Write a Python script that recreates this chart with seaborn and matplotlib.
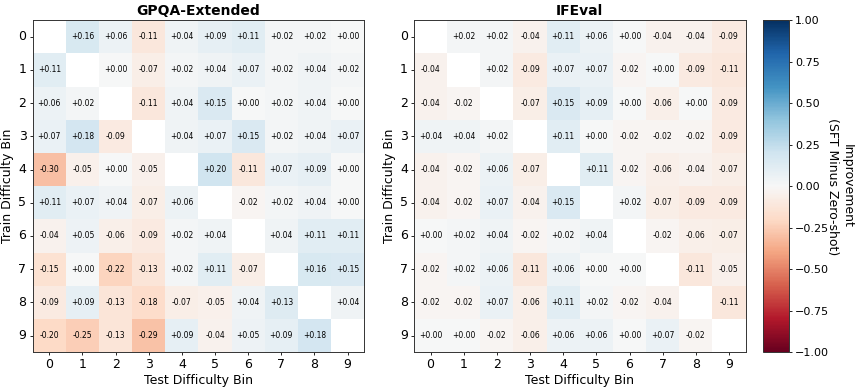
import numpy as np
import pandas as pd
import matplotlib
matplotlib.use('Agg')
import matplotlib.pyplot as plt
import seaborn as sns

nan = np.nan
bins = list(range(10))

# GPQA-Extended: rreshtat = train bin, kolonat = test bin
gpqa_vals = [
    [nan, 0.16, 0.06, -0.11, 0.04, 0.09, 0.11, 0.02, 0.02, 0.00],
    [0.11, nan, 0.00, -0.07, 0.02, 0.04, 0.07, 0.02, 0.04, 0.02],
    [0.06, 0.02, nan, -0.11, 0.04, 0.15, 0.00, 0.02, 0.04, 0.00],
    [0.07, 0.18, -0.09, nan, 0.04, 0.07, 0.15, 0.02, 0.04, 0.07],
    [-0.30, -0.05, 0.00, -0.05, nan, 0.20, -0.11, 0.07, 0.09, 0.00],
    [0.11, 0.07, 0.04, -0.07, 0.06, nan, -0.02, 0.02, 0.04, 0.00],
    [-0.04, 0.05, -0.06, -0.09, 0.02, 0.04, nan, 0.04, 0.11, 0.11],
    [-0.15, 0.00, -0.22, -0.13, 0.02, 0.11, -0.07, nan, 0.16, 0.15],
    [-0.09, 0.09, -0.13, -0.18, -0.07, -0.05, 0.04, 0.13, nan, 0.04],
    [-0.20, -0.25, -0.13, -0.29, 0.09, -0.04, 0.05, 0.09, 0.18, nan],
]

# IFEval
ifeval_vals = [
    [nan, 0.02, 0.02, -0.04, 0.11, 0.06, 0.00, -0.04, -0.04, -0.09],
    [-0.04, nan, 0.02, -0.09, 0.07, 0.07, -0.02, 0.00, -0.09, -0.11],
    [-0.04, -0.02, nan, -0.07, 0.15, 0.09, 0.00, -0.06, 0.00, -0.09],
    [0.04, 0.04, 0.02, nan, 0.11, 0.00, -0.02, -0.02, -0.02, -0.09],
    [-0.04, -0.02, 0.06, -0.07, nan, 0.11, -0.02, -0.06, -0.04, -0.07],
    [-0.04, -0.02, 0.07, -0.04, 0.15, nan, 0.02, -0.07, -0.09, -0.09],
    [0.00, 0.02, 0.04, -0.02, 0.02, 0.04, nan, -0.02, -0.06, -0.07],
    [-0.02, 0.02, 0.06, -0.11, 0.06, 0.00, 0.00, nan, -0.11, -0.05],
    [-0.02, -0.02, 0.07, -0.06, 0.11, 0.02, -0.02, -0.04, nan, -0.11],
    [0.00, 0.00, -0.02, -0.06, 0.06, 0.06, 0.00, 0.07, -0.02, nan],
]

titles = ['GPQA-Extended', 'IFEval']

fig = plt.figure(figsize=(8.59, 3.89), dpi=100)
ax1 = fig.add_axes([0.0381, 0.0946, 0.3859, 0.8535])
ax2 = fig.add_axes([0.482, 0.0946, 0.3859, 0.8535])
cax = fig.add_axes([0.888, 0.0946, 0.0303, 0.8535])

for ax, vals, title in zip([ax1, ax2], [gpqa_vals, ifeval_vals], titles):
    df = pd.DataFrame(vals, index=bins, columns=bins)
    sns.heatmap(df, ax=ax, cmap='RdBu', vmin=-1, vmax=1, center=0,
                annot=True, fmt='+.2f', annot_kws={'size': 5.5, 'color': 'black'},
                cbar=(ax is ax1), cbar_ax=cax if ax is ax1 else None)
    ax.set_title(title, fontsize=10, fontweight='bold', pad=4)
    ax.set_xlabel('Test Difficulty Bin', fontsize=9, labelpad=2)
    ax.set_ylabel('Train Difficulty Bin', fontsize=9, labelpad=3)
    ax.tick_params(labelsize=9, length=2.5, width=0.6, pad=2)
    ax.set_yticklabels(bins, rotation=0)
    for s in ax.spines.values():
        s.set_visible(True)
        s.set_color('#333333')
        s.set_linewidth(0.7)

cbar = ax1.collections[0].colorbar
cbar.set_ticks([-1, -0.75, -0.5, -0.25, 0, 0.25, 0.5, 0.75, 1])
cbar.ax.tick_params(labelsize=8, length=2.5, width=0.6, pad=2)
cbar.set_label('Improvement\n(SFT Minus Zero-shot)', rotation=270, labelpad=18, fontsize=9)
cbar.outline.set_visible(True)
cbar.outline.set_edgecolor('#333333')
cbar.outline.set_linewidth(0.7)

fig.savefig('out.png', dpi=100)
